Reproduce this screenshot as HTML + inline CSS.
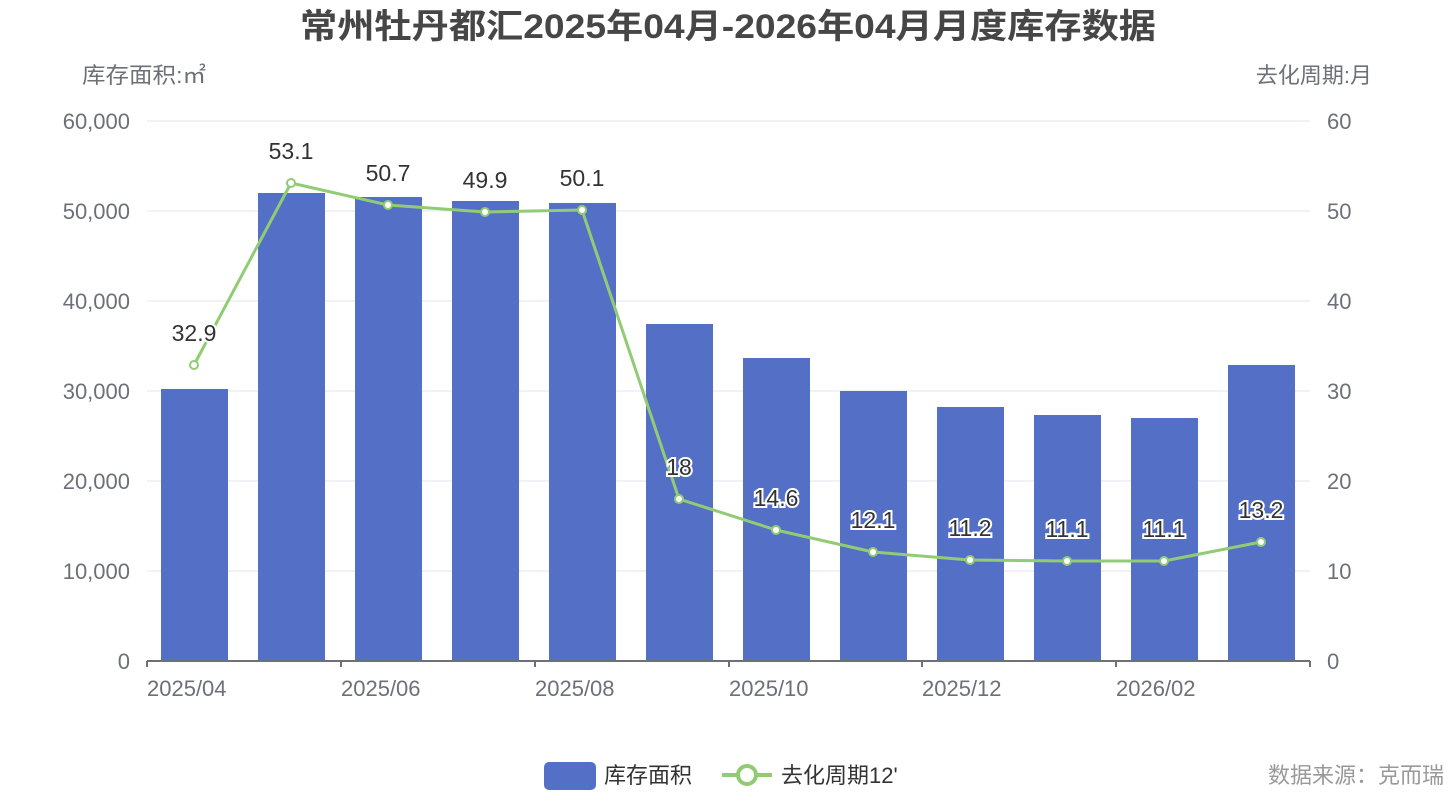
<!DOCTYPE html>
<html><head><meta charset="utf-8"><style>
body{margin:0;background:#fff;}
text{font-family:"Liberation Sans","Noto Sans CJK SC",sans-serif;}
</style></head><body>
<svg width="1456" height="800" xmlns="http://www.w3.org/2000/svg">
<text x="728" y="38" text-anchor="middle" font-size="34" font-weight="bold" fill="#464646" textLength="856" lengthAdjust="spacingAndGlyphs">常州牡丹都汇2025年04月-2026年04月月度库存数据</text>
<text x="82" y="83" font-size="22" fill="#6e7079" textLength="124" lengthAdjust="spacingAndGlyphs">库存面积:㎡</text>
<text x="1372" y="83" text-anchor="end" font-size="22" fill="#6e7079">去化周期:月</text>
<g stroke="#e0e6f1" stroke-width="1">
<line x1="147" x2="1310" y1="121" y2="121"/><line x1="147" x2="1310" y1="211" y2="211"/>
<line x1="147" x2="1310" y1="301" y2="301"/><line x1="147" x2="1310" y1="391" y2="391"/>
<line x1="147" x2="1310" y1="481" y2="481"/><line x1="147" x2="1310" y1="571" y2="571"/>
</g>
<g font-size="22" fill="#6e7079" text-anchor="end">
<text x="130" y="129">60,000</text><text x="130" y="219">50,000</text><text x="130" y="309">40,000</text>
<text x="130" y="399">30,000</text><text x="130" y="489">20,000</text><text x="130" y="579">10,000</text><text x="130" y="669">0</text>
</g>
<g font-size="22" fill="#6e7079" text-anchor="start">
<text x="1327" y="129">60</text><text x="1327" y="219">50</text><text x="1327" y="309">40</text>
<text x="1327" y="399">30</text><text x="1327" y="489">20</text><text x="1327" y="579">10</text><text x="1327" y="669">0</text>
</g>
<g fill="#5470c6">
<rect x="161" y="389" width="67" height="272"/>
<rect x="258" y="193" width="67" height="468"/>
<rect x="355" y="197" width="67" height="464"/>
<rect x="452" y="201" width="67" height="460"/>
<rect x="549" y="203" width="67" height="458"/>
<rect x="646" y="324" width="67" height="337"/>
<rect x="743" y="358" width="67" height="303"/>
<rect x="840" y="391" width="67" height="270"/>
<rect x="937" y="407" width="67" height="254"/>
<rect x="1034" y="415" width="67" height="246"/>
<rect x="1131" y="418" width="67" height="243"/>
<rect x="1228" y="365" width="67" height="296"/>
</g>
<g stroke="#6e7079" stroke-width="2">
<line x1="147" x2="1310" y1="661" y2="661"/>
<line x1="147" x2="147" y1="661" y2="667"/><line x1="341" x2="341" y1="661" y2="667"/>
<line x1="535" x2="535" y1="661" y2="667"/><line x1="729" x2="729" y1="661" y2="667"/>
<line x1="922" x2="922" y1="661" y2="667"/><line x1="1116" x2="1116" y1="661" y2="667"/>
<line x1="1310" x2="1310" y1="661" y2="667"/>
</g>
<g font-size="22" fill="#6e7079">
<text x="147" y="696">2025/04</text><text x="341" y="696">2025/06</text><text x="535" y="696">2025/08</text>
<text x="729" y="696">2025/10</text><text x="922" y="696">2025/12</text><text x="1116" y="696">2026/02</text>
</g>
<polyline fill="none" stroke="#91cc75" stroke-width="3" stroke-linejoin="round" points="194,365 291,183 388,205 485,212 582,210 679,499 776,530 873,552 970,560 1067,561 1164,561 1261,542"/>
<g fill="#fff" stroke="#91cc75" stroke-width="2">
<circle cx="194" cy="365" r="4"/><circle cx="291" cy="183" r="4"/><circle cx="388" cy="205" r="4"/>
<circle cx="485" cy="212" r="4"/><circle cx="582" cy="210" r="4"/><circle cx="679" cy="499" r="4"/>
<circle cx="776" cy="530" r="4"/><circle cx="873" cy="552" r="4"/><circle cx="970" cy="560" r="4"/>
<circle cx="1067" cy="561" r="4"/><circle cx="1164" cy="561" r="4"/><circle cx="1261" cy="542" r="4"/>
</g>
<g font-size="23" fill="#333" text-anchor="middle" stroke="#fff" stroke-width="4" paint-order="stroke">
<text x="194" y="341">32.9</text><text x="291" y="159">53.1</text><text x="388" y="181">50.7</text>
<text x="485" y="188">49.9</text><text x="582" y="186">50.1</text><text x="679" y="475">18</text>
<text x="776" y="506">14.6</text><text x="873" y="528">12.1</text><text x="970" y="536">11.2</text>
<text x="1067" y="537">11.1</text><text x="1164" y="537">11.1</text><text x="1261" y="518">13.2</text>
</g>
<rect x="544" y="762" width="52" height="28" rx="5" fill="#5470c6"/>
<text x="604" y="783" font-size="22" fill="#333">库存面积</text>
<line x1="722" x2="772" y1="775" y2="775" stroke="#91cc75" stroke-width="4"/>
<circle cx="747" cy="775" r="9" fill="#fff" stroke="#91cc75" stroke-width="4"/>
<text x="781" y="783" font-size="22" fill="#333">去化周期12'</text>
<text x="1444" y="783" text-anchor="end" font-size="22" fill="#999">数据来源：克而瑞</text>
</svg>
</body></html>
